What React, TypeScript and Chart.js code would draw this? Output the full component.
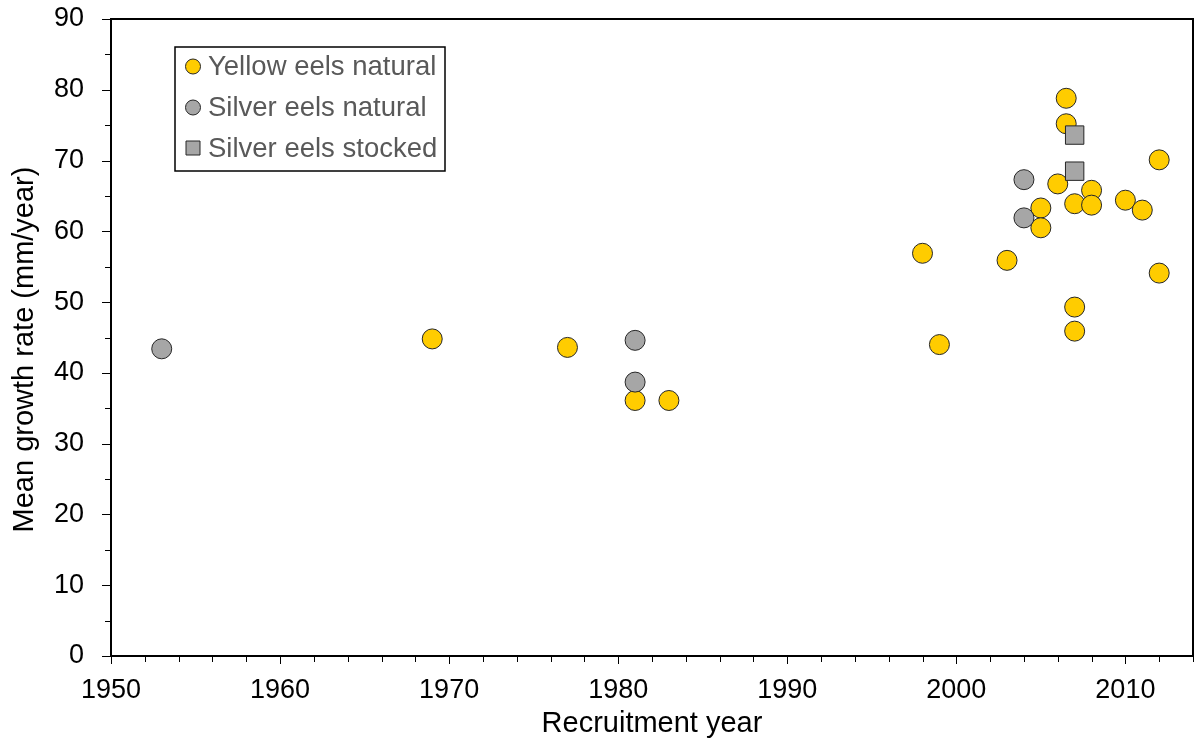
import React, { useEffect, useRef } from 'react';
import { Chart, registerables } from 'chart.js';

Chart.register(...registerables);

// ---- data ----
const yellowYears = [1969, 1977, 1981, 1983, 1998, 1999, 2003, 2005, 2005, 2006, 2006.5, 2006.5, 2007, 2007, 2007, 2008, 2008, 2010, 2011, 2012, 2012];
const yellowRates = [44.8, 43.6, 36.1, 36.1, 56.9, 44.0, 55.9, 63.3, 60.5, 66.7, 78.8, 75.2, 63.9, 49.3, 45.9, 65.8, 63.7, 64.4, 63.0, 70.1, 54.1];

const silverNaturalYears = [1953, 1981, 1981, 2004, 2004];
const silverNaturalRates = [43.4, 44.6, 38.7, 67.3, 61.9];

const silverStockedYears = [2007, 2007];
const silverStockedRates = [73.6, 68.5];

const seriesNames = ['Yellow eels natural', 'Silver eels natural', 'Silver eels stocked'];

const xTickLabels = [1950, 1960, 1970, 1980, 1990, 2000, 2010];
const yTickLabels = [0, 10, 20, 30, 40, 50, 60, 70, 80, 90];
const xMin = 1950;
const xMax = 2014;
const xMinorStep = 2;
const yMin = 0;
const yMax = 90;
const yMinorStep = 5;

const xTitle = 'Recruitment year';
const yTitle = 'Mean growth rate (mm/year)';

// ---- styles ----
const YELLOW = '#FFCC00';
const GREY = '#A6A6A6';
const EDGE = '#262626';
const FONT = "'Liberation Sans', Arial, sans-serif";

const toPoints = (xs: number[], ys: number[]) => xs.map((x, i) => ({ x, y: ys[i] }));

const decorPlugin = {
  id: 'decor',
  afterDraw(chart: any) {
    const { ctx, chartArea: a, scales } = chart;
    const xs = scales.x;
    const ys = scales.y;
    ctx.save();
    // ticks
    ctx.strokeStyle = '#000';
    ctx.lineWidth = 1;
    for (let v = xMin; v <= xMax + 1e-9; v += xMinorStep) {
      const px = Math.round(xs.getPixelForValue(v)) + 0.5;
      const major = xTickLabels.includes(v);
      ctx.beginPath();
      ctx.moveTo(px, a.bottom);
      ctx.lineTo(px, a.bottom + (major ? 8 : 6));
      ctx.stroke();
    }
    for (let v = yMin; v <= yMax + 1e-9; v += yMinorStep) {
      const py = Math.round(ys.getPixelForValue(v)) + 0.5;
      const major = yTickLabels.includes(v);
      ctx.beginPath();
      ctx.moveTo(a.left, py);
      ctx.lineTo(a.left - (major ? 9 : 6), py);
      ctx.stroke();
    }
    // frame
    ctx.lineWidth = 2;
    ctx.strokeRect(a.left, a.top, a.right - a.left, a.bottom - a.top);

    // y axis title (slightly below the plot centre, as in the reference)
    ctx.save();
    ctx.translate(24.5, (a.top + a.bottom) / 2 + 12);
    ctx.rotate(-Math.PI / 2);
    ctx.font = `29px ${FONT}`;
    ctx.fillStyle = '#000';
    ctx.textAlign = 'center';
    ctx.textBaseline = 'middle';
    ctx.fillText(yTitle, 0, 0);
    ctx.restore();

    // legend
    const lx = a.left + 64;
    const ly = a.top + 28;
    const lw = 270;
    const lh = 124;
    ctx.fillStyle = '#fff';
    ctx.fillRect(lx, ly, lw, lh);
    ctx.lineWidth = 1.5;
    ctx.strokeStyle = '#000';
    ctx.strokeRect(lx, ly, lw, lh);
    const rows = [ly + 19.5, ly + 60.5, ly + 101];
    const mx = lx + 18;
    ctx.font = `27.5px ${FONT}`;
    ctx.textBaseline = 'middle';
    ctx.textAlign = 'left';
    rows.forEach((ry, i) => {
      ctx.lineWidth = 1;
      ctx.strokeStyle = EDGE;
      ctx.beginPath();
      if (i < 2) {
        ctx.fillStyle = i === 0 ? YELLOW : GREY;
        ctx.arc(mx, ry, 7.5, 0, Math.PI * 2);
      } else {
        ctx.fillStyle = GREY;
        ctx.rect(mx - 7, ry - 7, 14, 14);
      }
      ctx.fill();
      ctx.stroke();
      ctx.fillStyle = '#595959';
      ctx.fillText(seriesNames[i], lx + 33, ry + 1);
    });
    ctx.restore();
  },
};

export default function App() {
  const ref = useRef<HTMLCanvasElement | null>(null);

  useEffect(() => {
    if (!ref.current) return;
    const chart = new Chart(ref.current, {
      type: 'scatter',
      data: {
        datasets: [
          {
            label: seriesNames[0],
            data: toPoints(yellowYears, yellowRates),
            backgroundColor: YELLOW,
            borderColor: EDGE,
            borderWidth: 1,
            pointRadius: 10,
            pointHoverRadius: 10,
            pointStyle: 'circle',
            order: 3,
          },
          {
            label: seriesNames[1],
            data: toPoints(silverNaturalYears, silverNaturalRates),
            backgroundColor: GREY,
            borderColor: EDGE,
            borderWidth: 1,
            pointRadius: 10,
            pointHoverRadius: 10,
            pointStyle: 'circle',
            order: 2,
          },
          {
            label: seriesNames[2],
            data: toPoints(silverStockedYears, silverStockedRates),
            backgroundColor: GREY,
            borderColor: EDGE,
            borderWidth: 1,
            pointRadius: 13,
            pointHoverRadius: 13,
            pointStyle: 'rect',
            order: 1,
          },
        ],
      },
      options: {
        responsive: false,
        animation: false,
        events: [],
        layout: { autoPadding: false, padding: { top: 19, right: 1, left: 0, bottom: 0 } },
        plugins: {
          legend: { display: false },
          tooltip: { enabled: false },
        },
        scales: {
          x: {
            type: 'linear',
            min: xMin,
            max: xMax,
            afterBuildTicks: (scale: any) => {
              scale.ticks = xTickLabels.map((v) => ({ value: v }));
            },
            afterFit: (scale: any) => {
              scale.height = 90;
              scale.paddingLeft = 0;
              scale.paddingRight = 0;
            },
            grid: { display: false, drawTicks: false },
            border: { display: false },
            ticks: {
              color: '#000',
              font: { family: FONT, size: 27 },
              padding: 18,
              maxRotation: 0,
              autoSkip: false,
              callback: (v: any) => String(v),
            },
            title: {
              display: true,
              text: xTitle,
              color: '#000',
              font: { family: FONT, size: 29 },
              padding: { top: 0, bottom: 5 },
            },
          },
          y: {
            type: 'linear',
            min: yMin,
            max: yMax,
            afterBuildTicks: (scale: any) => {
              scale.ticks = yTickLabels.map((v) => ({ value: v }));
            },
            afterFit: (scale: any) => {
              scale.width = 111;
              scale.paddingTop = 0;
              scale.paddingBottom = 0;
            },
            grid: { display: false, drawTicks: false },
            border: { display: false },
            ticks: {
              color: '#000',
              font: { family: FONT, size: 27 },
              padding: 27,
              autoSkip: false,
            },
            title: { display: false },
          },
        },
      },
      plugins: [decorPlugin],
    });
    return () => chart.destroy();
  }, []);

  return (
    <div style={{ position: 'absolute', left: 0, top: 0, width: 1194, height: 746, background: '#fff' }}>
      <canvas ref={ref} width={1194} height={746} style={{ display: 'block' }} />
    </div>
  );
}
